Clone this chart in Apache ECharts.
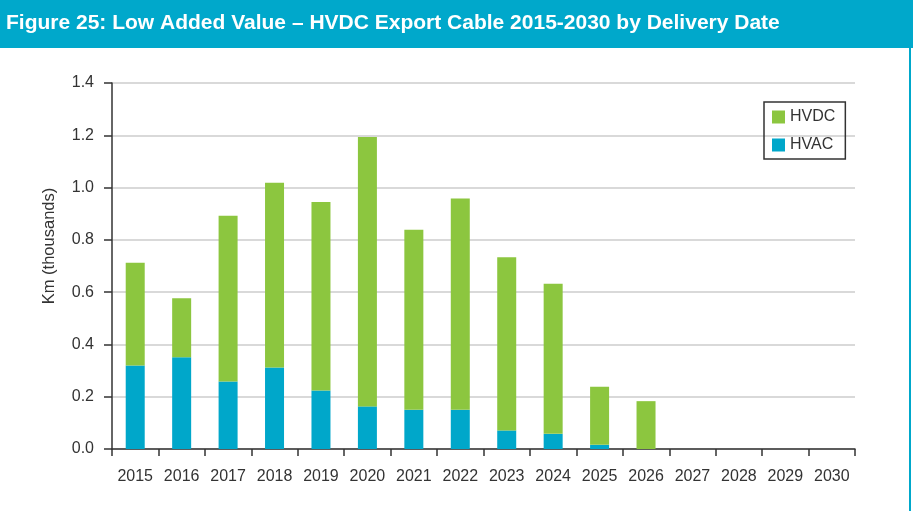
<!DOCTYPE html>
<html>
<head>
<meta charset="utf-8">
<script src="https://cdn.jsdelivr.net/npm/echarts@6/dist/echarts.min.js"></script>
<style>
html,body{margin:0;padding:0;background:#fff;}
#chart{width:913px;height:511px;}
</style>
</head>
<body>
<div id="chart"></div>
<script>
const titleText = 'Figure 25: Low Added Value \u2013 HVDC Export Cable 2015-2030 by Delivery Date';
const yAxisName = 'Km (thousands)';
const categories = ['2015','2016','2017','2018','2019','2020','2021','2022','2023','2024','2025','2026','2027','2028','2029','2030'];
const hvac = [0.319, 0.351, 0.258, 0.312, 0.224, 0.163, 0.150, 0.150, 0.071, 0.058, 0.016, 0, 0, 0, 0, 0];
const hvdc = [0.393, 0.226, 0.634, 0.706, 0.721, 1.030, 0.689, 0.808, 0.662, 0.574, 0.222, 0.183, 0, 0, 0, 0];
const yTicks = [0, 0.2, 0.4, 0.6, 0.8, 1.0, 1.2, 1.4];

const GREEN = '#8cc63f';
const BLUE = '#00a7ca';
const FONT = 'Liberation Sans, Arial, Helvetica, sans-serif';

const chart = echarts.init(document.getElementById('chart'), null, {renderer: 'canvas'});
chart.setOption({
  animation: false,
  backgroundColor: '#fff',
  graphic: [
    {type: 'rect', left: 0, top: 0, shape: {width: 913, height: 48}, style: {fill: '#00a8cb'}, z: 0},
    {type: 'rect', left: 909, top: 48, shape: {width: 2, height: 463}, style: {fill: '#00a8cb'}, z: 0},
    {type: 'text', x: 6, y: 23, style: {text: titleText, fill: '#fff', font: 'bold 21px ' + FONT, verticalAlign: 'middle'}, z: 1},
    {type: 'text', x: 49, y: 246, rotation: Math.PI / 2, style: {text: yAxisName, fill: '#333', font: '16.5px ' + FONT, align: 'center', verticalAlign: 'middle'}, z: 1}
  ],
  legend: {
    data: ['HVDC', 'HVAC'],
    orient: 'vertical',
    left: 764, top: 102,
    padding: [7, 10, 6, 8],
    itemWidth: 13, itemHeight: 13, itemGap: 12,
    borderColor: '#333', borderWidth: 1.5,
    icon: 'rect',
    textStyle: {fontSize: 16, color: '#333', fontFamily: FONT}
  },
  grid: {left: 112, right: 58, top: 83, bottom: 62, containLabel: false},
  xAxis: {
    type: 'category',
    data: categories,
    boundaryGap: true,
    axisLine: {lineStyle: {color: '#333', width: 1.5}},
    axisTick: {show: true, length: 7, lineStyle: {color: '#333', width: 1.5}},
    axisLabel: {margin: 20, fontSize: 16, color: '#333', fontFamily: FONT, interval: 0}
  },
  yAxis: {
    type: 'value',
    min: yTicks[0], max: yTicks[yTicks.length - 1], interval: 0.2,
    axisLine: {show: true, lineStyle: {color: '#333', width: 1.5}},
    axisTick: {show: true, length: 8, lineStyle: {color: '#333', width: 1.5}},
    axisLabel: {margin: 18, fontSize: 16, color: '#333', fontFamily: FONT, formatter: v => v.toFixed(1)},
    splitLine: {show: true, lineStyle: {color: '#ccc', width: 1.5}}
  },
  series: [
    {name: 'HVAC', type: 'bar', stack: 'total', data: hvac, barWidth: 19, itemStyle: {color: BLUE}},
    {name: 'HVDC', type: 'bar', stack: 'total', data: hvdc, barWidth: 19, itemStyle: {color: GREEN}}
  ]
});
</script>
</body>
</html>
